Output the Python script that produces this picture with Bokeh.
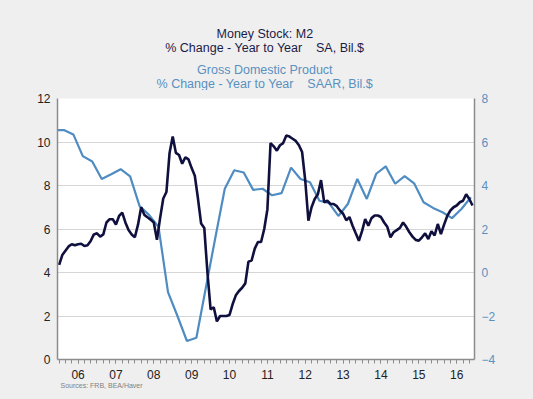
from bokeh.plotting import figure
from bokeh.models import Range1d, LinearAxis, FixedTicker, Title
from bokeh.layouts import column
from bokeh.core.properties import value
from bokeh.embed import file_html
from bokeh.resources import INLINE

# ---------------- data ----------------
# Money Stock M2, % change year to year, monthly Jan 2006 .. Dec 2016
m2_2006 = [4.35, 4.8, 5.0, 5.2, 5.3, 5.25, 5.3, 5.32, 5.22, 5.25, 5.45, 5.75]
m2_2007 = [5.8, 5.65, 5.75, 6.3, 6.45, 6.45, 6.2, 6.6, 6.75, 6.3, 5.95, 5.75]
m2_2008 = [5.62, 6.2, 7.0, 6.65, 6.54, 6.43, 6.3, 5.5, 6.5, 7.4, 7.7, 9.5]
m2_2009 = [10.25, 9.5, 9.4, 9.0, 9.3, 9.2, 8.8, 8.45, 7.4, 6.25, 6.05, 4.0]
m2_2010 = [2.3, 2.4, 1.75, 2.0, 2.0, 2.0, 2.05, 2.55, 2.95, 3.15, 3.3, 3.5]
m2_2011 = [4.5, 4.55, 5.1, 5.4, 5.4, 6.0, 6.9, 9.95, 9.8, 9.6, 9.85, 9.95]
m2_2012 = [10.3, 10.25, 10.15, 10.05, 9.85, 9.54, 8.23, 6.38, 7.0, 7.38, 7.6, 8.25]
m2_2013 = [7.23, 7.3, 7.15, 7.15, 7.05, 6.85, 6.7, 6.4, 6.55, 6.15, 5.8, 5.46]
m2_2014 = [5.9, 6.46, 6.15, 6.5, 6.62, 6.62, 6.55, 6.3, 6.1, 5.62, 5.85, 5.95]
m2_2015 = [6.05, 6.3, 6.1, 5.85, 5.65, 5.5, 5.46, 5.62, 5.8, 5.54, 5.9, 5.7]
m2_2016 = [6.23, 5.77, 6.2, 6.6, 6.85, 7.0, 7.08, 7.23, 7.3, 7.6, 7.38, 7.08]
m2_years = [2006, 2007, 2008, 2009, 2010, 2011, 2012, 2013, 2014, 2015, 2016]
m2_by_year = [m2_2006, m2_2007, m2_2008, m2_2009, m2_2010, m2_2011,
              m2_2012, m2_2013, m2_2014, m2_2015, m2_2016]

# Gross Domestic Product, % change year to year, quarterly 2005Q4 .. 2016Q4
gdp_first_quarter = (2005, 4)
gdp_yoy = [6.55,
           6.55, 6.35, 5.35, 5.1,
           4.3, 4.52, 4.75, 4.42,
           3.05, 2.65, 2.1, -0.9,
           -2.0, -3.15, -3.0, -0.7,
           1.6, 3.85, 4.7, 4.6,
           3.8, 3.85, 3.55, 3.65,
           4.82, 4.3, 4.15, 3.3,
           3.2, 2.6, 3.15, 4.3,
           3.38, 4.54, 4.88, 4.08,
           4.43, 4.1, 3.23, 2.97,
           2.77, 2.5, 2.92, 3.46]

year_labels = ["06", "07", "08", "09", "10", "11", "12", "13", "14", "15", "16"]
left_ticks = [0, 2, 4, 6, 8, 10, 12]
right_ticks = [-4, -2, 0, 2, 4, 6, 8]

title_lines = ["Money Stock: M2",
               "% Change - Year to Year\u00a0\u00a0\u00a0\u00a0SA, Bil.$",
               "Gross Domestic Product",
               "% Change - Year to Year\u00a0\u00a0\u00a0\u00a0SAAR, Bil.$"]
source_text = "Sources:  FRB, BEA/Haver"

# ---------------- build series ----------------
m2_x, m2_y = [], []
for yr, vals in zip(m2_years, m2_by_year):
    for i, v in enumerate(vals):
        m2_x.append(yr + i / 12.0)
        m2_y.append(v)

gdp_x = []
y0, q0 = gdp_first_quarter
for k in range(len(gdp_yoy)):
    qi = (q0 - 1) + k
    gdp_x.append(y0 + qi // 4 + ((qi % 4) + 0.5) / 4.0)

FONT = "Liberation Sans"
DARK = "#1b1b48"
BLUE = "#5a8fc0"
GDP_LINE = "#4e8cc2"
M2_LINE = "#10103e"
BG = "#efefef"
W = 533
TOP_H = 90

# ---------------- title strip ----------------
top = figure(width=W, height=TOP_H, x_range=Range1d(0, W), y_range=Range1d(TOP_H, 0),
             output_backend="svg", toolbar_location=None,
             x_axis_type=None, y_axis_type=None,
             min_border=0, min_border_left=0, min_border_right=0,
             min_border_top=0, min_border_bottom=0)
top.grid.visible = False
top.outline_line_color = None
top.background_fill_color = BG
top.border_fill_color = BG
title_cx = 265
title_pos = [33.5, 47, 69.5, 83]
title_cols = [DARK, DARK, BLUE, BLUE]
top.text(x=[title_cx] * 4, y=title_pos, text=title_lines, text_color=title_cols,
         text_align="center", text_baseline="middle",
         text_font=value(FONT), text_font_size=value("12.5px"))

# ---------------- main chart ----------------
p = figure(width=W, height=399 - TOP_H,
           x_range=Range1d(2005.957, 2016.97),
           y_range=Range1d(0, 12),
           output_backend="svg", toolbar_location=None,
           min_border_left=57, min_border_right=59,
           min_border_top=8, min_border_bottom=40)
p.background_fill_color = "white"
p.border_fill_color = BG
p.outline_line_color = None

p.extra_y_ranges = {"gdp": Range1d(-4, 8)}

p.xgrid.visible = False
p.ygrid.ticker = FixedTicker(ticks=left_ticks)
p.ygrid.grid_line_color = "#d6d6d6"
p.ygrid.grid_line_width = 1.2

ya = p.yaxis[0]
ya.ticker = FixedTicker(ticks=left_ticks)
ya.axis_line_color = "#8c8c8c"
ya.axis_line_width = 1.5
ya.major_tick_out = 0
ya.major_tick_in = 0
ya.minor_tick_out = 0
ya.minor_tick_in = 0
ya.major_label_standoff = 7
ya.major_label_text_font = FONT
ya.major_label_text_font_size = "12px"
ya.major_label_text_color = "#222222"

ra = LinearAxis(y_range_name="gdp", ticker=FixedTicker(ticks=right_ticks))
ra.axis_line_color = "#8c8c8c"
ra.axis_line_width = 1.5
ra.major_tick_out = 0
ra.major_tick_in = 0
ra.minor_tick_out = 0
ra.minor_tick_in = 0
ra.major_label_standoff = 7
ra.major_label_text_font = FONT
ra.major_label_text_font_size = "12px"
ra.major_label_text_color = BLUE
p.add_layout(ra, "right")

label_ticks = [m2_years[i] + 0.5 for i in range(len(year_labels))]
minor = [2006 + k / 6.0 for k in range(0, 67)]
xa = p.xaxis[0]
xa.ticker = FixedTicker(ticks=label_ticks, minor_ticks=minor)
xa.major_label_overrides = {t: s for t, s in zip(label_ticks, year_labels)}
xa.axis_line_color = "#8c8c8c"
xa.axis_line_width = 1.5
xa.major_tick_out = 4
xa.major_tick_in = 0
xa.minor_tick_out = 4
xa.minor_tick_in = 0
xa.major_tick_line_color = "#8c8c8c"
xa.minor_tick_line_color = "#8c8c8c"
xa.major_label_standoff = 6
xa.major_label_text_font = FONT
xa.major_label_text_font_size = "12px"
xa.major_label_text_color = "#222222"

p.line(gdp_x, gdp_yoy, y_range_name="gdp", line_color=GDP_LINE, line_width=2.2)
p.line(m2_x, m2_y, line_color=M2_LINE, line_width=2.6)

p.add_layout(Title(text=source_text, align="left", offset=3, text_font=FONT,
                   text_font_size="7px", text_font_style="normal",
                   text_color="#808080", standoff=-4), "below")

layout = column(top, p, spacing=0)
html = file_html(layout, INLINE)
html = html.replace("<head>", "<head><style>body{background:%s;}</style>" % BG, 1)
open("out.html", "w").write(html)
